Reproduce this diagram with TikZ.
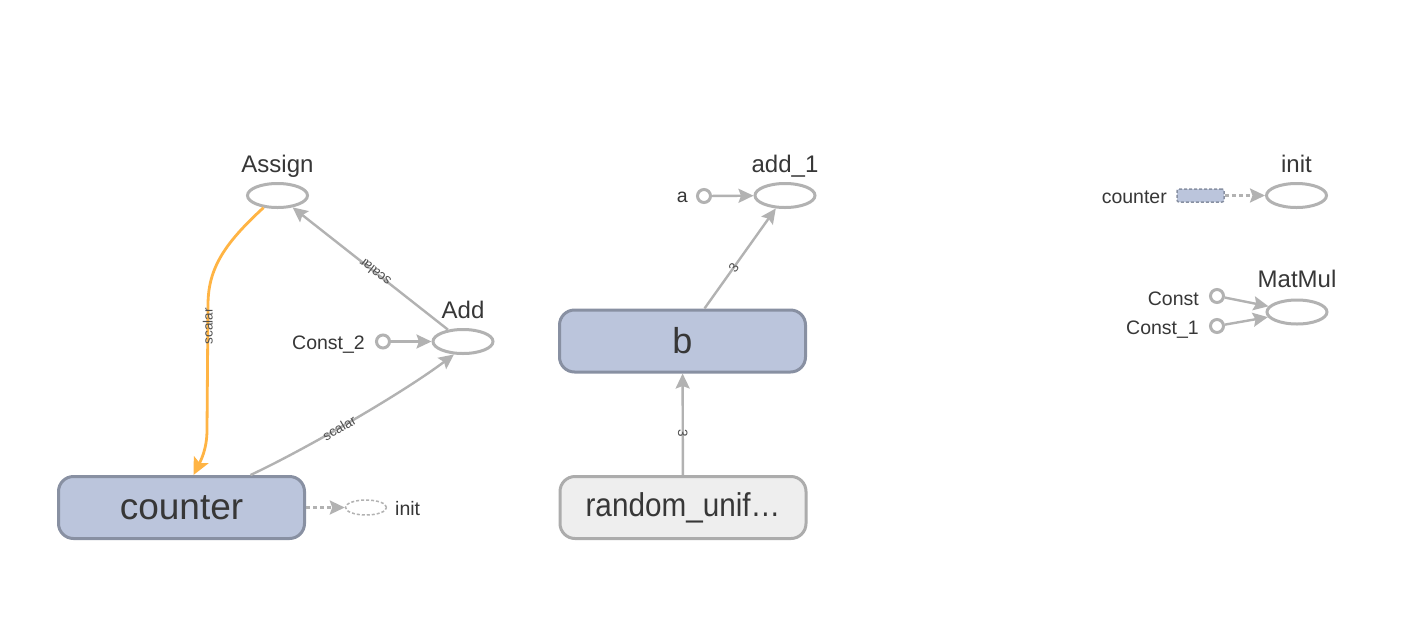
\documentclass[tikz,border=0pt]{standalone}
\usepackage{fontspec}
\setmainfont{Liberation Sans}
\usetikzlibrary{arrows.meta,shapes.geometric}
\definecolor{edgegray}{RGB}{178,178,178}
\definecolor{txt}{RGB}{55,55,55}
\definecolor{elbltxt}{RGB}{80,80,80}
\definecolor{boxfill}{RGB}{187,197,220}
\definecolor{boxline}{RGB}{136,144,162}
\definecolor{orng}{RGB}{255,180,68}
\definecolor{randfill}{RGB}{238,238,238}
\definecolor{randline}{RGB}{172,172,172}
\begin{document}
\begin{tikzpicture}[x=1pt,y=-1pt,
  op/.style={ellipse, draw=edgegray, line width=3pt, fill=white, minimum width=60pt, minimum height=24pt, inner sep=0pt},
  opdash/.style={ellipse, draw=edgegray, dash pattern=on 3pt off 2pt, line width=1.5pt, minimum width=41pt, minimum height=15pt, inner sep=0pt},
  cnst/.style={circle, draw=edgegray, line width=3pt, fill=white, minimum size=13pt, inner sep=0pt},
  varbox/.style={rectangle, rounded corners=15pt, draw=boxline, fill=boxfill, line width=3pt, minimum width=246pt, minimum height=62pt, inner sep=0pt, text=txt},
  randbox/.style={varbox, draw=randline, fill=randfill},
  title/.style={font=\fontsize{24}{24}\selectfont, text=txt, inner sep=0pt},
  lbl/.style={font=\fontsize{19.5}{20}\selectfont, text=txt, inner sep=0pt},
  elbl/.style={font=\fontsize{13.5}{14}\selectfont, text=elbltxt, inner sep=0pt},
  flow/.style={draw=edgegray, line width=2.4pt, -{Stealth[length=15pt,width=14pt,inset=2.5pt]}},
  ctrl/.style={flow, dash pattern=on 4pt off 3pt},
  refedge/.style={draw=orng, line width=2.8pt, -{Stealth[length=17pt,width=16pt,inset=3.5pt]}}
]
\fill[white] (0,0) rectangle (1428,622);
\useasboundingbox (0,0) rectangle (1428,622);

% left group
\node[op] (assign) at (277.5,195.5) {};
\node[title, anchor=base] (assignT) at (277.5,172) {Assign};
\node[op] (add) at (463,341.5) {};
\node[title, anchor=base] (addT) at (463,318) {Add};
\node[cnst] (c2) at (383,341.5) {};
\node[lbl, anchor=base east] (c2T) at (365,349) {Const\_2};
\node[varbox, font=\fontsize{37}{37}\selectfont] (counter) at (181.5,507.5) {counter};
\node[opdash] (initS) at (366,507.5) {};
\node[lbl, anchor=base west] (initST) at (395,515) {init};

% middle group
\node[op] (add1) at (785,195.5) {};
\node[title, anchor=base] (add1T) at (785,172) {add\_1};
\node[cnst] (a) at (704,196) {};
\node[lbl, anchor=base east] (aT) at (688,202) {a};
\node[varbox, font=\fontsize{36}{36}\selectfont] (b) at (682.5,341) {b};
\node[randbox, font=\fontsize{33}{33}\selectfont] (rand) at (683,507.5) {\scalebox{0.9}[1]{random\_unif…}};

% right group
\node[op] (init) at (1296.5,195.5) {};
\node[title, anchor=base] (initT) at (1296.5,172) {init};
\node[draw=boxline, fill=boxfill, dash pattern=on 3pt off 2pt, line width=1.5pt, rounded corners=2pt, minimum width=47pt, minimum height=13pt, inner sep=0pt] (cvar) at (1200.5,195.5) {};
\node[lbl, anchor=base east] (cvarT) at (1167,203) {counter};
\node[op] (matmul) at (1297,312) {};
\node[title, anchor=base] (matmulT) at (1297,287) {MatMul};
\node[cnst] (const) at (1217,296) {};
\node[lbl, anchor=base east] (constT) at (1199,305) {Const};
\node[cnst] (const1) at (1217,326) {};
\node[lbl, anchor=base east] (const1T) at (1199,334) {Const\_1};

% edges
\draw[flow] (c2) -- (add);
\draw[flow] (add) -- node[elbl, sloped, allow upside down, pos=0.47] {scalar} (assign);
\draw[refedge] (assign.221) .. controls (225,243) and (208,268) .. (208,305)
   -- node[elbl, pos=0.17, rotate=90] {scalar} (207,430)
   .. controls (207,450) and (200,462) .. ([xshift=12pt]counter.north);
\draw[flow] ([xshift=69pt]counter.north) .. controls (300,452) and (400,395) .. node[elbl, sloped, pos=0.45] {scalar} (add.235);
\draw[ctrl] (counter) -- (initS);
\draw[flow] (a) -- (add1);
\draw[flow] ([xshift=22pt]b.north) -- node[elbl, sloped, pos=0.41] {3} (add1);
\draw[flow] (rand) -- node[elbl, sloped, pos=0.41] {3} (b);
\draw[ctrl] (cvar) -- (init);
\draw[flow] (const) -- (matmul);
\draw[flow] (const1) -- (matmul);
\end{tikzpicture}
\end{document}
